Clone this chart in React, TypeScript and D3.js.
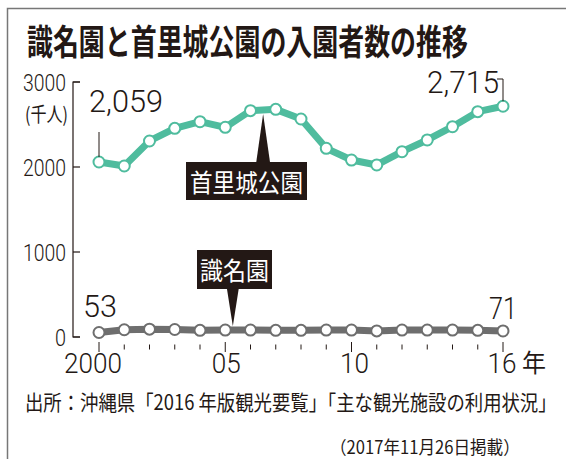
import React from "react";
import * as d3 from "d3";

const years = [2000, 2001, 2002, 2003, 2004, 2005, 2006, 2007, 2008, 2009, 2010, 2011, 2012, 2013, 2014, 2015, 2016];
const shuri = [2059, 2012, 2306, 2455, 2533, 2467, 2663, 2678, 2565, 2220, 2082, 2024, 2180, 2318, 2474, 2651, 2715];
const shikinaen = [53, 85, 92, 88, 78, 82, 82, 78, 78, 82, 82, 72, 82, 82, 82, 78, 71];
const yTicks = [0, 1000, 2000, 3000];
const xLabels = [
  { year: 2000, text: "2000", dx: -6 },
  { year: 2005, text: "05", dx: 1 },
  { year: 2010, text: "10", dx: 3 },
  { year: 2016, text: "16", dx: -1 },
];
const title = "識名園と首里城公園の入園者数の推移";
const source = "出所：沖縄県「2016 年版観光要覧」「主な観光施設の利用状況」";
const dateNote = "（2017年11月26日掲載）";

const GREEN = "#4fbc9e";
const GRAY = "#6e6e6e";
const INK = "#231815";
const NUM_FONT = "Roboto, 'Liberation Sans', sans-serif";
const NUM_WEIGHT = 300;
const JP_FONT = "'Noto Sans CJK JP', sans-serif";

let ctx: CanvasRenderingContext2D | null = null;
function measure(text: string, size: number, family: string, weight: number | string) {
  if (!ctx) ctx = document.createElement("canvas").getContext("2d");
  if (!ctx) return text.length * size * 0.6;
  ctx.font = `${weight} ${size}px ${family}`;
  return ctx.measureText(text).width;
}

type FitProps = {
  x: number; y: number; width: number; text: string; size: number;
  family?: string; weight?: number | string; fill?: string;
};
// Draws text whose left edge is x and whose horizontal extent is `width`, by scaling.
function FitText({ x, y, width, text, size, family = JP_FONT, weight = 400, fill = INK }: FitProps) {
  const w = measure(text, size, family, weight);
  const s = width / w;
  return (
    <text transform={`translate(${x},${y}) scale(${s},1)`} fontFamily={family} fontWeight={weight}
      fontSize={size} fill={fill}>{text}</text>
  );
}

export default function App() {
  const x = d3.scaleLinear().domain([2000, 2016]).range([99, 503]);
  const y = d3.scaleLinear().domain([0, 3000]).range([337, 82]);
  const line = d3
    .line<number>()
    .x((_, i) => x(years[i]))
    .y((d) => y(d));
  const fmt = d3.format(",");

  const sx0 = x(2000), sy0 = y(shuri[0]);
  const sx1 = x(2016), sy1 = y(shuri[16]);
  const shuriApex = { x: x(2006.5), y: y(2670) };
  const shikiApex = { x: x(2005.3), y: y(80) };
  const axisX = x(2000) - 26;

  return (
    <svg width={566} height={459} style={{ position: "absolute", left: 0, top: 0, background: "#fff" }}>
      {/* frame */}
      <path d="M7.5,459 V8.5 H566" fill="none" stroke="#777" strokeWidth={1.5} />

      {/* title */}
      <FitText x={27} y={55} width={441} text={title} size={35} weight={700} />

      {/* y axis */}
      <path d={`M${axisX + 7},${y(3000)} H${axisX} V${y(0)} H${axisX + 7}`} fill="none" stroke={INK} strokeWidth={1.2} />
      {yTicks.map((t) => {
        const w = t === 0 ? 11 : 43;
        return (
          <g key={t}>
            <line x1={axisX} x2={axisX + 7} y1={y(t)} y2={y(t)} stroke={INK} strokeWidth={1.2} />
            <FitText x={66 - w} y={y(t) + 9} width={w} text={String(t)} size={24} family={NUM_FONT} weight={NUM_WEIGHT} />
          </g>
        );
      })}
      <FitText x={25} y={122} width={43} text="(千人)" size={20} />

      {/* x ticks */}
      {years.map((yr) => {
        const labeled = xLabels.some((l) => l.year === yr);
        return (
          <line key={yr} x1={x(yr)} x2={x(yr)} y1={labeled ? 342 : 344.5} y2={labeled ? 352 : 349.5}
            stroke={INK} strokeWidth={1} />
        );
      })}
      {xLabels.map((l) => {
        const w = l.text.length * 14.5;
        return <FitText key={l.year} x={x(l.year) + l.dx - w / 2} y={373} width={w} text={l.text} size={27} family={NUM_FONT} weight={NUM_WEIGHT} />;
      })}
      <FitText x={x(2016) + 19} y={372} width={24} text="年" size={25} />

      {/* shuri line */}
      <path d={line(shuri) || ""} fill="none" stroke={GREEN} strokeWidth={7} strokeLinejoin="round" />
      {shuri.map((v, i) => (
        <circle key={i} cx={x(years[i])} cy={y(v)} r={5.5} fill="#fff" stroke={GREEN} strokeWidth={2} />
      ))}

      {/* shikinaen line */}
      <path d={line(shikinaen) || ""} fill="none" stroke={GRAY} strokeWidth={7} strokeLinejoin="round" />
      {shikinaen.map((v, i) => (
        <circle key={i} cx={x(years[i])} cy={y(v)} r={5.5} fill="#fff" stroke={GRAY} strokeWidth={2} />
      ))}

      {/* value labels */}
      <line x1={sx0} x2={sx0} y1={132} y2={sy0 - 5} stroke={INK} strokeWidth={1} />
      <FitText x={89} y={112} width={74} text={fmt(shuri[0])} size={31} family={NUM_FONT} weight={NUM_WEIGHT} />
      <path d={`M${sx1 - 6},79 H${sx1} V${sy1 - 5}`} fill="none" stroke={INK} strokeWidth={1} />
      <FitText x={427} y={93} width={72} text={fmt(shuri[16])} size={31} family={NUM_FONT} weight={NUM_WEIGHT} />
      <FitText x={83} y={317} width={34} text={fmt(shikinaen[0])} size={31} family={NUM_FONT} weight={NUM_WEIGHT} />
      <FitText x={489} y={319} width={28} text={fmt(shikinaen[16])} size={31} family={NUM_FONT} weight={NUM_WEIGHT} />

      {/* series name boxes */}
      <path d={`M${shuriApex.x - 7},163 L${shuriApex.x},${shuriApex.y + 4} L${shuriApex.x + 7},163 Z`} fill={INK} />
      <rect x={186} y={162} width={121} height={38} fill={INK} />
      <FitText x={190} y={192} width={113} text="首里城公園" size={25} fill="#fff" />

      <path d={`M${shikiApex.x - 6},288 L${shikiApex.x},${shikiApex.y - 4} L${shikiApex.x + 6},288 Z`} fill={INK} />
      <rect x={197} y={250} width={75} height={39} fill={INK} />
      <FitText x={200} y={280} width={69} text="識名園" size={25} fill="#fff" />

      {/* source */}
      <FitText x={25} y={410} width={532} text={source} size={21} />
      <FitText x={330} y={454} width={190} text={dateNote} size={18} />
    </svg>
  );
}
